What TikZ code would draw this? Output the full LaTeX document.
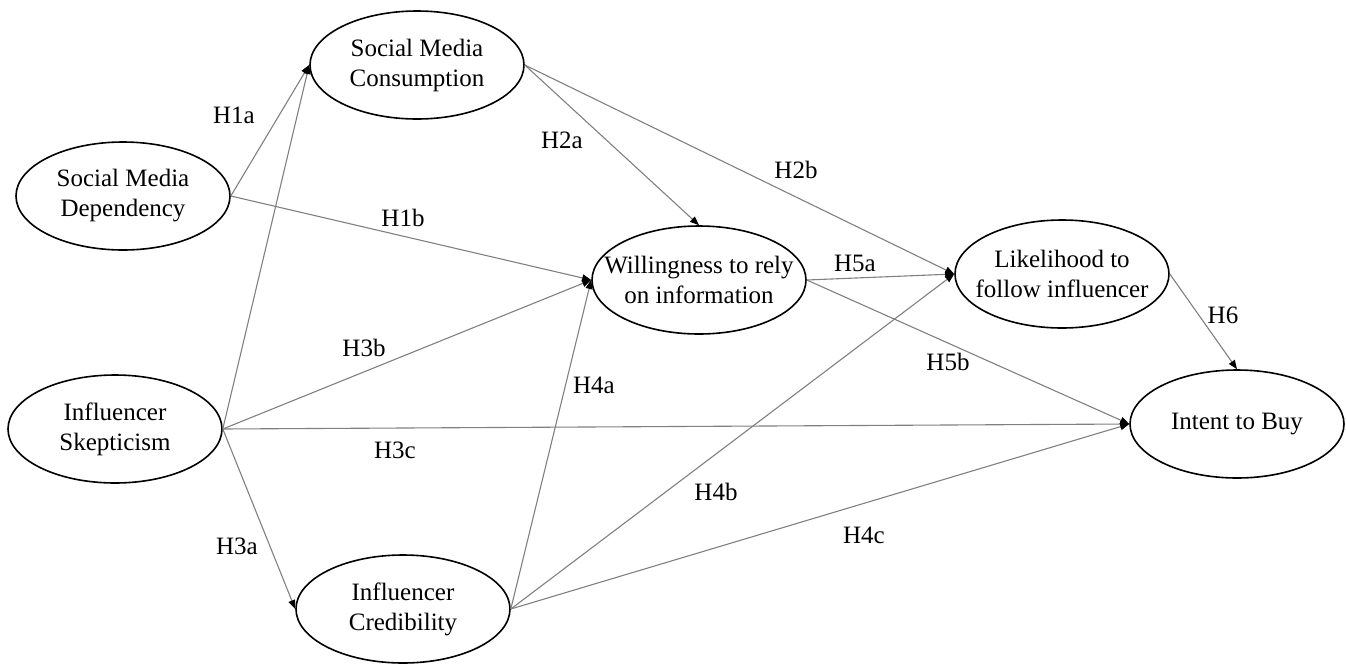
\documentclass[tikz,border=0pt]{standalone}
\usepackage{fontspec}
\setmainfont{Liberation Serif}
\usetikzlibrary{shapes.geometric,arrows.meta}

\begin{document}
\begin{tikzpicture}[x=0.5pt,y=-0.5pt,
  every node/.style={font=\fontsize{12.5pt}{15pt}\selectfont},
  construct/.style={ellipse,draw=black,line width=0.8pt,
    minimum width=107pt,minimum height=54pt,inner sep=0pt},
  ctext/.style={align=center,inner sep=0pt},
  path/.style={draw=black!50,line width=0.55pt,
    -{Triangle[length=4.5pt,width=3.5pt,color=black]}},
  hyp/.style={inner sep=1pt}]

\useasboundingbox (0,0) rectangle (1346,665);

% constructs
\node[construct,label={[ctext]center:{Social Media\\Dependency}}]   (smd)  at (123,196)  {};
\node[construct,label={[ctext]center:{Social Media\\Consumption}}]  (smc)  at (417,65)   {};
\node[construct,label={[ctext]center:{Willingness to rely\\on information}}] (wri) at (699,280) {};
\node[construct,label={[ctext]center:{Likelihood to\\follow influencer}}] (lfi) at (1062,274) {};
\node[construct,label={[ctext]center:{Intent to Buy}}]              (itb)  at (1237,424) {};
\node[construct,label={[ctext]center:{Influencer\\Skepticism}}]     (isk)  at (115,429)  {};
\node[construct,label={[ctext]center:{Influencer\\Credibility}}]    (icr)  at (403,609)  {};

% hypothesised paths
\draw[path] (smd.east) -- (smc.west);
\draw[path] (smd.east) -- (wri.west);
\draw[path] (isk.east) -- (smc.west);
\draw[path] (isk.east) -- (wri.west);
\draw[path] (isk.east) -- (itb.west);
\draw[path] (isk.east) -- (icr.west);
\draw[path] (icr.east) -- (wri.west);
\draw[path] (icr.east) -- (lfi.west);
\draw[path] (icr.east) -- (itb.west);
\draw[path] (smc.east) -- (wri.north);
\draw[path] (smc.east) -- (lfi.west);
\draw[path] (wri.east) -- (lfi.west);
\draw[path] (wri.east) -- (itb.west);
\draw[path] (lfi.east) -- (itb.north);

% path labels
\node[hyp] (h1a) at (234,115) {H1a};
\node[hyp] (h1b) at (403,218) {H1b};
\node[hyp] (h2a) at (562,140) {H2a};
\node[hyp] (h2b) at (796,170) {H2b};
\node[hyp] (h3a) at (237,546) {H3a};
\node[hyp] (h3b) at (364,348) {H3b};
\node[hyp] (h3c) at (395,450) {H3c};
\node[hyp] (h4a) at (594,385) {H4a};
\node[hyp] (h4b) at (716,492) {H4b};
\node[hyp] (h4c) at (864,535) {H4c};
\node[hyp] (h5a) at (855,263) {H5a};
\node[hyp] (h5b) at (948,362) {H5b};
\node[hyp] (h6)  at (1223,315) {H6};
\end{tikzpicture}
\end{document}
